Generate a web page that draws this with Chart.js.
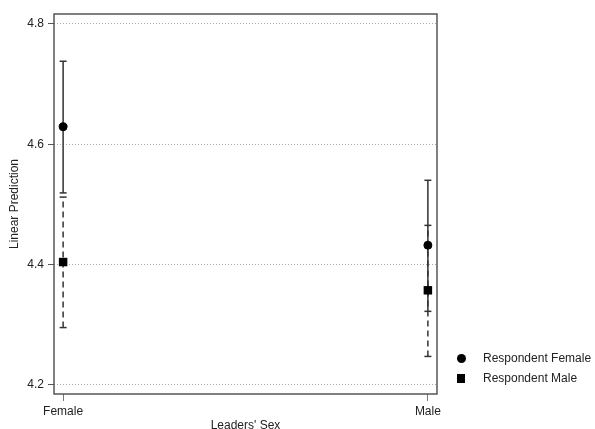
<!DOCTYPE html>
<html>
<head>
<meta charset="utf-8">
<script src="https://cdn.jsdelivr.net/npm/chart.js@4"></script>
<style>
  body { margin: 0; background: #fff; font-family: "Liberation Sans", Arial, sans-serif; }
  #wrap { position: relative; width: 595px; height: 429px; }
  .leg { position: absolute; left: 483px; font-size: 12px; color: #222; line-height: 14px; white-space: nowrap; }
  .mk { position: absolute; background: #000; }
</style>
</head>
<body>
<div id="wrap">
  <canvas id="grafico" width="595" height="429"></canvas>
  <div class="mk" style="left:456.5px;top:353.5px;width:9px;height:9px;border-radius:50%"></div>
  <div class="leg" style="top:351px">Respondent Female</div>
  <div class="mk" style="left:456.5px;top:374px;width:8.5px;height:8.5px"></div>
  <div class="leg" style="top:371px">Respondent Male</div>
</div>
<script>
// ======== DADOS ===========
const categories = ['Female', 'Male'];
const yTicks = [4.2, 4.4, 4.6, 4.8];

// Respondent Female
const femaleResp = [4.629, 4.432];
const femaleLo = [4.519, 4.322];
const femaleHi = [4.738, 4.540];

// Respondent Male
const maleResp = [4.404, 4.357];
const maleLo = [4.295, 4.247];
const maleHi = [4.512, 4.465];

function points(vals) {
  return vals.map((y, i) => ({ x: i, y: y }));
}

// intervalo: lo -> hi, com um null entre categorias para quebrar a linha
function ciPoints(lo, hi) {
  const out = [];
  lo.forEach((l, i) => {
    out.push({ x: i, y: l }, { x: i, y: hi[i] }, { x: i, y: null });
  });
  return out;
}

Chart.defaults.font.family = '"Liberation Sans", Arial, sans-serif';
Chart.defaults.font.size = 12;
Chart.defaults.color = '#222';

// moldura em volta da área do gráfico
const moldura = {
  id: 'moldura',
  beforeDatasetsDraw(chart) {
    const { ctx, chartArea: a } = chart;
    ctx.save();
    ctx.strokeStyle = '#555';
    ctx.lineWidth = 1.5;
    ctx.strokeRect(a.left, a.top, a.right - a.left, a.bottom - a.top);
    ctx.restore();
  }
};

new Chart(document.getElementById('grafico'), {
  type: 'scatter',
  data: {
    datasets: [
      {
        label: 'Respondent Female',
        data: points(femaleResp),
        pointStyle: 'circle',
        pointRadius: 4,
        pointBorderWidth: 1,
        backgroundColor: '#000',
        borderColor: '#000'
      },
      {
        label: 'Respondent Male',
        data: points(maleResp),
        pointStyle: 'rect',
        pointRadius: 6,
        pointBorderWidth: 0,
        backgroundColor: '#000',
        borderColor: '#000'
      },
      {
        label: 'CI Female',
        type: 'line',
        data: ciPoints(femaleLo, femaleHi),
        showLine: true,
        spanGaps: false,
        borderColor: '#333',
        borderWidth: 1.5,
        pointStyle: 'line',
        pointRadius: 3.5,
        pointBorderWidth: 1.5,
        pointBorderColor: '#333'
      },
      {
        label: 'CI Male',
        type: 'line',
        data: ciPoints(maleLo, maleHi),
        showLine: true,
        spanGaps: false,
        borderColor: '#333',
        borderWidth: 1.5,
        borderDash: [6, 4],
        pointStyle: 'line',
        pointRadius: 3.5,
        pointBorderWidth: 1.5,
        pointBorderColor: '#333'
      }
    ]
  },
  options: {
    responsive: false,
    animation: false,
    events: [],
    layout: { padding: { top: 14, right: 158, left: 0, bottom: 0 } },
    plugins: {
      legend: { display: false },
      tooltip: { enabled: false }
    },
    scales: {
      x: {
        type: 'linear',
        min: -0.025,
        max: 1.025,
        afterBuildTicks: s => { s.ticks = categories.map((c, i) => ({ value: i })); },
        afterFit: s => { s.height = 35; },
        ticks: {
          callback: v => categories[v],
          padding: 3,
          maxRotation: 0
        },
        grid: {
          drawOnChartArea: false,
          tickLength: 7,
          tickColor: '#777',
          tickWidth: 1
        },
        border: { display: false },
        title: {
          display: true,
          text: "Leaders' Sex",
          padding: { top: -4, bottom: -4 }
        }
      },
      y: {
        min: 4.1845,
        max: 4.8166,
        afterBuildTicks: s => { s.ticks = yTicks.map(v => ({ value: v })); },
        afterFit: s => { s.width = 54; },
        ticks: {
          callback: v => v.toFixed(1),
          padding: 4
        },
        grid: {
          color: '#aaa',
          lineWidth: 1,
          tickLength: 6,
          tickColor: '#555',
          tickWidth: 1,
          tickBorderDash: []
        },
        border: { display: false, dash: [1, 2] },
        title: {
          display: true,
          text: 'Linear Prediction',
          padding: { top: 7, bottom: 7 }
        }
      }
    }
  },
  plugins: [moldura]
});
</script>
</body>
</html>
